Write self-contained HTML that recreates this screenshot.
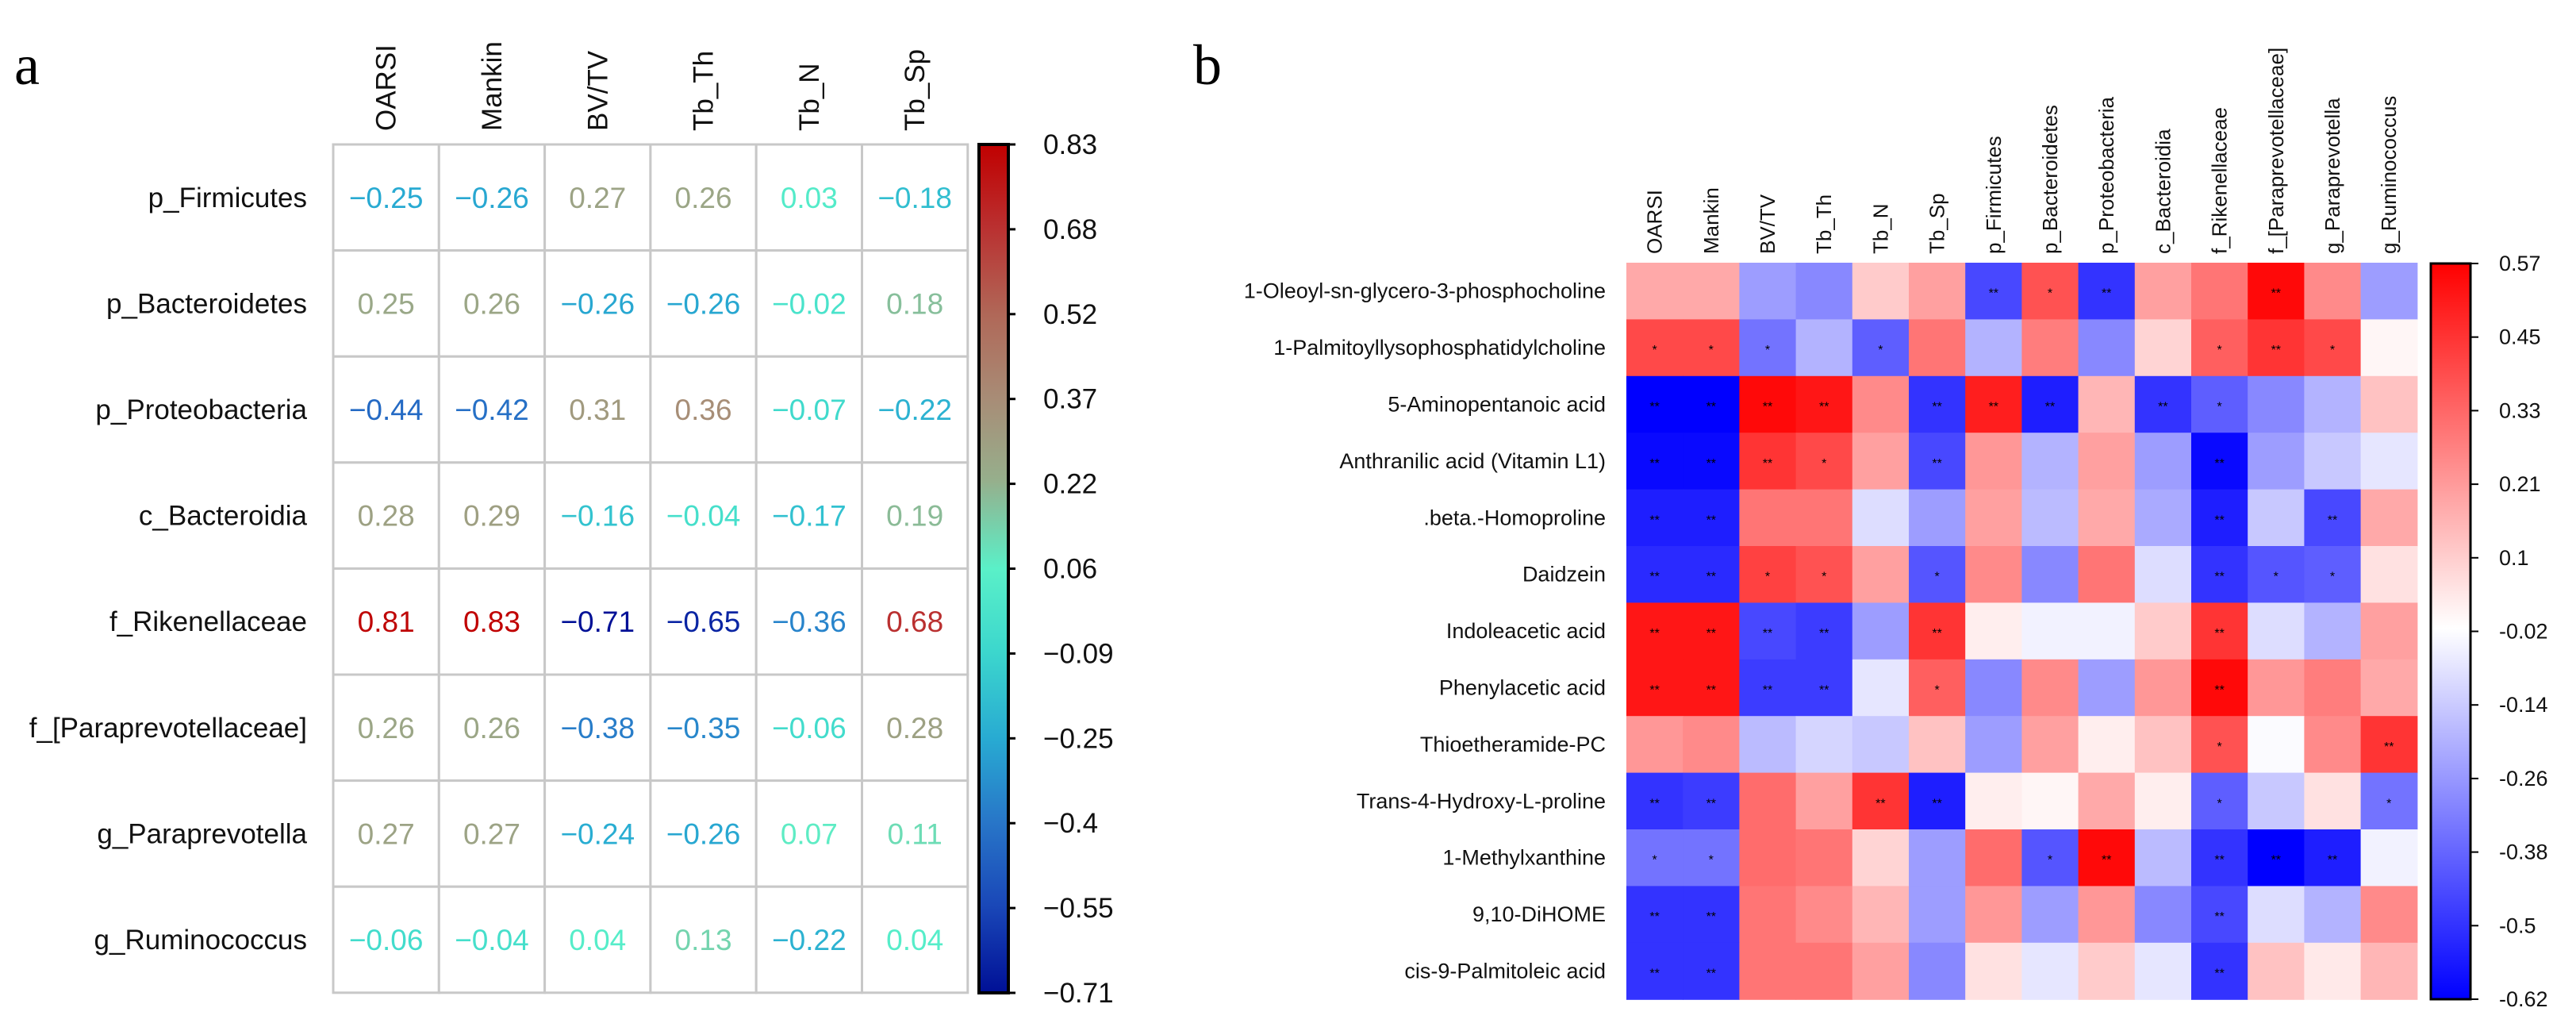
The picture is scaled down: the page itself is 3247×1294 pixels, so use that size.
<!DOCTYPE html>
<html><head><meta charset="utf-8"><style>
html,body{margin:0;padding:0;background:#fff;}
svg{display:block;font-family:"Liberation Sans",sans-serif;}
</style></head><body>
<svg id="fig" width="3247" height="1294" viewBox="0 0 3247 1294" xmlns="http://www.w3.org/2000/svg">
<rect width="3247" height="1294" fill="#fff"/>
<text x="18" y="106" font-family="Liberation Serif,serif" font-size="72">a</text>
<text x="1504" y="106" font-family="Liberation Serif,serif" font-size="72">b</text>
<g id="pa"></g>
<g id="pb"></g>
</svg>
<script>
const aCols = ["OARSI","Mankin","BV/TV","Tb_Th","Tb_N","Tb_Sp"];
const aRows = ["p_Firmicutes","p_Bacteroidetes","p_Proteobacteria","c_Bacteroidia","f_Rikenellaceae","f_[Paraprevotellaceae]","g_Paraprevotella","g_Ruminococcus"];
const aVals = [
 [-0.25,-0.26,0.27,0.26,0.03,-0.18],
 [0.25,0.26,-0.26,-0.26,-0.02,0.18],
 [-0.44,-0.42,0.31,0.36,-0.07,-0.22],
 [0.28,0.29,-0.16,-0.04,-0.17,0.19],
 [0.81,0.83,-0.71,-0.65,-0.36,0.68],
 [0.26,0.26,-0.38,-0.35,-0.06,0.28],
 [0.27,0.27,-0.24,-0.26,0.07,0.11],
 [-0.06,-0.04,0.04,0.13,-0.22,0.04]
];
const aTicks = ["0.83","0.68","0.52","0.37","0.22","0.06","−0.09","−0.25","−0.4","−0.55","−0.71"];

const bCols = ["OARSI","Mankin","BV/TV","Tb_Th","Tb_N","Tb_Sp","p_Firmicutes","p_Bacteroidetes","p_Proteobacteria","c_Bacteroidia","f_Rikenellaceae","f_[Paraprevotellaceae]","g_Paraprevotella","g_Ruminococcus"];
const bRows = ["1-Oleoyl-sn-glycero-3-phosphocholine","1-Palmitoyllysophosphatidylcholine","5-Aminopentanoic acid","Anthranilic acid (Vitamin L1)",".beta.-Homoproline","Daidzein","Indoleacetic acid","Phenylacetic acid","Thioetheramide-PC","Trans-4-Hydroxy-L-proline","1-Methylxanthine","9,10-DiHOME","cis-9-Palmitoleic acid"];
const bVals = [
 [0.18,0.18,-0.25,-0.3,0.1,0.2,-0.45,0.38,-0.5,0.2,0.3,0.55,0.25,-0.25],
 [0.4,0.4,-0.35,-0.2,-0.4,0.3,-0.2,0.28,-0.3,0.08,0.35,0.45,0.4,0.0],
 [-0.62,-0.62,0.55,0.52,0.25,-0.5,0.5,-0.55,0.15,-0.5,-0.4,-0.3,-0.2,0.12],
 [-0.6,-0.6,0.45,0.4,0.2,-0.45,0.22,-0.2,0.2,-0.25,-0.6,-0.25,-0.15,-0.08],
 [-0.55,-0.55,0.3,0.3,-0.1,-0.25,0.2,-0.18,0.18,-0.22,-0.55,-0.15,-0.45,0.18],
 [-0.52,-0.52,0.42,0.38,0.2,-0.42,0.25,-0.3,0.3,-0.1,-0.5,-0.42,-0.4,0.05],
 [0.52,0.52,-0.45,-0.48,-0.25,0.45,0.02,-0.05,-0.05,0.1,0.45,-0.1,-0.2,0.2],
 [0.52,0.52,-0.48,-0.48,-0.08,0.35,-0.3,0.25,-0.25,0.22,0.55,0.22,0.28,0.18],
 [0.22,0.25,-0.18,-0.12,-0.15,0.12,-0.25,0.2,0.02,0.12,0.38,-0.03,0.25,0.45],
 [-0.5,-0.48,0.32,0.2,0.45,-0.55,0.02,0.0,0.18,0.02,-0.4,-0.15,0.05,-0.35],
 [-0.35,-0.35,0.32,0.3,0.08,-0.25,0.32,-0.42,0.55,-0.18,-0.5,-0.62,-0.55,-0.05],
 [-0.5,-0.5,0.3,0.25,0.15,-0.25,0.22,-0.25,0.22,-0.3,-0.45,-0.1,-0.2,0.25],
 [-0.5,-0.5,0.3,0.3,0.2,-0.3,0.05,-0.08,0.1,-0.08,-0.5,0.12,0.03,0.15]
];
const bTicks = ["0.57","0.45","0.33","0.21","0.1","-0.02","-0.14","-0.26","-0.38","-0.5","-0.62"];

const NS="http://www.w3.org/2000/svg";
function mk(p,tag,attrs,txt){const e=document.createElementNS(NS,tag);for(const k in attrs)e.setAttribute(k,attrs[k]);if(txt!==undefined)e.textContent=txt;p.appendChild(e);return e;}
function lerp(stops,v){
 if(v<=stops[0][0])return stops[0][1];
 for(let i=1;i<stops.length;i++){if(v<=stops[i][0]){const t=(v-stops[i-1][0])/(stops[i][0]-stops[i-1][0]);const a=stops[i-1][1],b=stops[i][1];return 'rgb('+a.map((c,j)=>Math.round(c+(b[j]-c)*t)).join(',')+')';}}
 const l=stops[stops.length-1][1];return 'rgb('+l.join(',')+')';
}
function col(stops,v){const c=lerp(stops,v);return typeof c==='string'?c:'rgb('+c.join(',')+')';}
const aStops=[[-0.71,[0,16,150]],[-0.55,[26,72,184]],[-0.4,[40,118,200]],[-0.25,[40,170,210]],[-0.09,[60,215,205]],[0.06,[90,240,200]],[0.22,[150,175,140]],[0.37,[168,140,118]],[0.52,[176,104,88]],[0.68,[186,48,48]],[0.83,[192,0,0]]];
const bStops=[[-0.62,[0,0,255]],[-0.02,[255,255,255]],[0.57,[255,0,0]]];

// Panel A
const pa=document.getElementById('pa');
const ax0=420,ay0=182,aw=133.3,ah=133.6;
const ax=i=>ax0+i*aw, ay=j=>ay0+j*ah;
aRows.forEach((r,j)=>{
 const t=mk(pa,'text',{x:387,y:ay(j)+ah/2+12,'text-anchor':'end','font-size':35,fill:'#111'},r);
 
 
});
aCols.forEach((c,i)=>{
 const x=ax(i)+aw/2+12;
 const t=mk(pa,'text',{x:x,y:165,transform:'rotate(-90 '+x+' 165)','font-size':35,fill:'#111'},c);
 
 
});
aVals.forEach((row,j)=>row.forEach((v,i)=>{
 const r=mk(pa,'rect',{x:ax(i),y:ay(j),width:aw,height:ah,fill:'#fff',stroke:'#c8c8c8','stroke-width':3});
 
 
 const t=mk(pa,'text',{x:ax(i)+aw/2,y:ay(j)+ah/2+13,'text-anchor':'middle','font-size':37,fill:col(aStops,v)},(v<0?'−':'')+Math.abs(v).toFixed(2));
 
 
}));
// colorbar A
const defs=mk(document.getElementById('fig'),'defs',{});
const ga=mk(defs,'linearGradient',{id:'ga',x1:0,y1:1,x2:0,y2:0});
aStops.forEach(s=>mk(ga,'stop',{offset:(s[0]+0.71)/1.54,'stop-color':'rgb('+s[1].join(',')+')'}));
const cba=mk(pa,'rect',{x:1234,y:182,width:37,height:1069,fill:'url(#ga)',stroke:'#000','stroke-width':4});


aTicks.forEach((tk,k)=>{
 const y=182+k*1069/(aTicks.length-1);
 mk(pa,'line',{x1:1271,x2:1280,y1:y,y2:y,stroke:'#000','stroke-width':3});
 const t=mk(pa,'text',{x:1315,y:y+12,'font-size':35,fill:'#111'},tk);
 
 
});

// Panel B
const pb=document.getElementById('pb');
const bx0=2050,by0=331,bw=71.2,bh=71.4;
const bx=i=>bx0+i*bw, by=j=>by0+j*bh;
bVals.forEach((row,j)=>row.forEach((v,i)=>{
 const r=mk(pb,'rect',{x:bx(i),y:by(j),width:bw+0.6,height:bh+0.6,fill:col(bStops,v)});
 
 
 if(Math.abs(v)>=0.35){
  const t=mk(pb,'text',{x:bx(i)+bw/2,y:by(j)+bh/2+8,'text-anchor':'middle','font-size':16,fill:'#000'},Math.abs(v)>=0.45?'**':'*');
  
  
 }
}));
bRows.forEach((r,j)=>{
 const t=mk(pb,'text',{x:2024,y:by(j)+bh/2+9,'text-anchor':'end','font-size':27,fill:'#111'},r);
 
 
});
bCols.forEach((c,i)=>{
 const x=bx(i)+bw/2+9;
 const t=mk(pb,'text',{x:x,y:320,transform:'rotate(-90 '+x+' 320)','font-size':26,fill:'#111'},c);
 
 
});
const gb=mk(defs,'linearGradient',{id:'gb',x1:0,y1:1,x2:0,y2:0});
bStops.forEach(s=>mk(gb,'stop',{offset:(s[0]+0.62)/1.19,'stop-color':'rgb('+s[1].join(',')+')'}));
const cbb=mk(pb,'rect',{x:3064,y:332,width:50,height:927,fill:'url(#gb)',stroke:'#000','stroke-width':3});


bTicks.forEach((tk,k)=>{
 const y=332+k*927/(bTicks.length-1);
 mk(pb,'line',{x1:3114,x2:3124,y1:y,y2:y,stroke:'#000','stroke-width':2});
 const t=mk(pb,'text',{x:3150,y:y+9,'font-size':27,fill:'#111'},tk);
 
 
});
</script>
</body></html>
